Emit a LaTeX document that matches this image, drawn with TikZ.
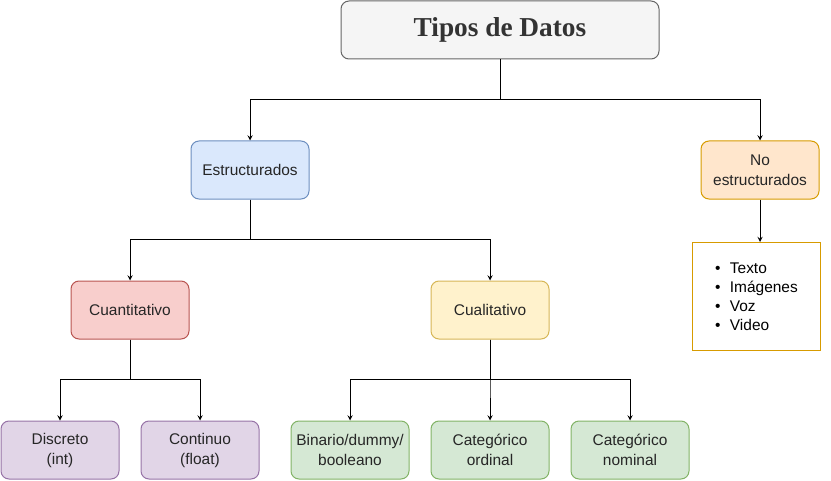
\documentclass[tikz,border=0pt]{standalone}
\usepackage{fontspec}
\setmainfont{Liberation Sans}
\newfontfamily\titlefont{Liberation Serif}
\usetikzlibrary{positioning}

\definecolor{titfill}{HTML}{F5F5F5}
\definecolor{titline}{HTML}{666666}
\definecolor{bluefill}{HTML}{DAE8FC}
\definecolor{blueline}{HTML}{6C8EBF}
\definecolor{orfill}{HTML}{FFE6CC}
\definecolor{orline}{HTML}{D79B00}
\definecolor{redfill}{HTML}{F8CECC}
\definecolor{redline}{HTML}{B85450}
\definecolor{yelfill}{HTML}{FFF2CC}
\definecolor{yelline}{HTML}{D6B656}
\definecolor{purfill}{HTML}{E1D5E7}
\definecolor{purline}{HTML}{9673A6}
\definecolor{grnfill}{HTML}{D5E8D4}
\definecolor{grnline}{HTML}{82B366}

\begin{document}
\begin{tikzpicture}[x=0.75pt,y=-0.75pt,line width=0.75pt,
  box/.style={draw,rounded corners=6pt,minimum width=88.5pt,minimum height=43.5pt,
    align=center,text=black!85,font=\fontsize{11.6}{15}\selectfont},
  tipo/.style={box,fill=#1fill,draw=#1line}]
  \useasboundingbox (0,0) rectangle (831,481);

  \node[box,fill=titfill,draw=titline,minimum width=238.5pt,
    font=\titlefont\bfseries\fontsize{20.5}{22}\selectfont,text=black!80] (datos) at (500,30) {Tipos de Datos};
  \node[tipo=blue] (est) at (250,170) {Estructurados};
  \node[tipo=or] (noest) at (760,170) {No\\estructurados};
  \node[draw=orline,minimum width=96pt,minimum height=81pt,align=left,
    font=\fontsize{11.6}{14.25}\selectfont] (lista) at (756.5,296.5)
    {\textbullet\hspace{7pt}Texto\\\textbullet\hspace{7pt}Imágenes\\\textbullet\hspace{7pt}Voz\\\textbullet\hspace{7pt}Video};
  \node[tipo=red] (cuant) at (130,310) {Cuantitativo};
  \node[tipo=yel] (cual) at (490,310) {Cualitativo};
  \node[tipo=pur] (disc) at (60,450) {Discreto\\(int)};
  \node[tipo=pur] (cont) at (200,450) {Continuo\\(float)};
  \node[tipo=grn] (bin) at (350,450) {Binario/dummy/\\booleano};
  \node[tipo=grn] (ord) at (490,450) {Categórico\\ordinal};
  \node[tipo=grn] (nom) at (630,450) {Categórico\\nominal};

  \foreach \a/\b in {datos/est,datos/noest,est/cuant,est/cual,cuant/disc,cuant/cont,cual/bin,cual/ord,cual/nom}
    \draw[->,>=stealth] (\a.south) -- ++(0,40) -| (\b.north);
  \draw[->,>=stealth] (noest.south) -- (noest.south |- lista.north);
\end{tikzpicture}
\end{document}
